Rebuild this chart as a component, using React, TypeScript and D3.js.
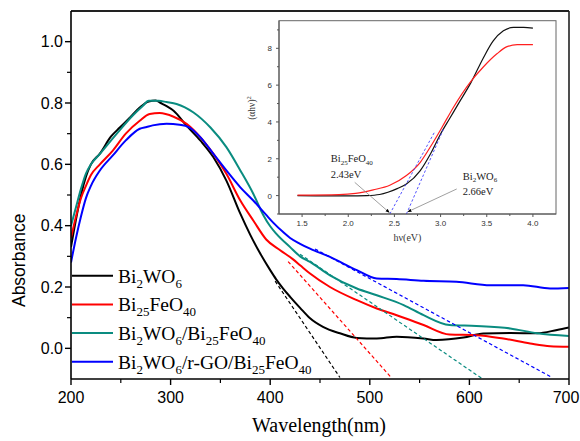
import React from "react";
import * as d3 from "d3";

// ---------- Main chart data (wavelength nm, absorbance) ----------
const bi2wo6: [number, number][] = [
  [200, 0.33], [205, 0.42], [210, 0.5], [215, 0.56], [220, 0.6], [229, 0.635], [240, 0.69],
  [249, 0.72], [260, 0.755], [269, 0.785], [278, 0.805], [285, 0.808], [290, 0.8], [296, 0.79],
  [303, 0.775], [316, 0.726], [330, 0.677], [343, 0.623], [356, 0.547], [370, 0.439], [380, 0.37],
  [390, 0.309], [400, 0.255], [406, 0.225], [413, 0.195], [420, 0.168], [430, 0.132], [440, 0.098],
  [453, 0.07], [470, 0.049], [487, 0.034], [507, 0.032], [527, 0.038], [554, 0.032], [567, 0.027],
  [594, 0.035], [614, 0.048], [641, 0.05], [668, 0.049], [688, 0.06], [700, 0.068],
];
const bi25feo40: [number, number][] = [
  [200, 0.36], [205, 0.43], [210, 0.49], [215, 0.53], [220, 0.565], [229, 0.6], [242, 0.645],
  [255, 0.7], [269, 0.742], [279, 0.764], [289, 0.767], [303, 0.755], [316, 0.732], [330, 0.688],
  [343, 0.634], [356, 0.569], [370, 0.482], [383, 0.417], [396, 0.355], [410, 0.32], [423, 0.29],
  [430, 0.271], [440, 0.244], [460, 0.2], [487, 0.157], [507, 0.13], [527, 0.108], [554, 0.076],
  [580, 0.045], [607, 0.043], [634, 0.032], [661, 0.016], [681, 0.007], [700, 0.005],
];
const composite: [number, number][] = [
  [200, 0.4], [205, 0.46], [210, 0.52], [215, 0.57], [220, 0.6], [229, 0.634], [246, 0.7],
  [262, 0.759], [272, 0.79], [278, 0.807], [288, 0.807], [296, 0.803], [306, 0.797], [323, 0.769],
  [340, 0.72], [356, 0.656], [370, 0.58], [383, 0.504], [393, 0.435], [400, 0.398], [406, 0.374],
  [420, 0.33], [430, 0.3], [440, 0.282], [460, 0.238], [487, 0.195], [507, 0.173], [534, 0.141],
  [554, 0.108], [580, 0.076], [607, 0.073], [641, 0.065], [668, 0.049], [700, 0.04],
];
const rgoComposite: [number, number][] = [
  [200, 0.28], [205, 0.36], [210, 0.43], [215, 0.49], [220, 0.53], [229, 0.58], [242, 0.629],
  [255, 0.678], [269, 0.716], [276, 0.722], [282, 0.727], [296, 0.732], [309, 0.729], [319, 0.72],
  [330, 0.688], [343, 0.634], [356, 0.58], [370, 0.525], [383, 0.482], [396, 0.435], [403, 0.41],
  [413, 0.379], [420, 0.36], [430, 0.341], [440, 0.325], [460, 0.298], [487, 0.255], [507, 0.228],
  [527, 0.226], [554, 0.22], [587, 0.217], [621, 0.206], [654, 0.206], [681, 0.195], [700, 0.197],
];

const seriesNames = ["Bi_2WO_6", "Bi_25FeO_40", "Bi_2WO_6/Bi_25FeO_40", "Bi_2WO_6/r-GO/Bi_25FeO_40"];
const seriesColors = ["#000000", "#ff0000", "#0a8c80", "#0000ff"];
const seriesData = [bi2wo6, bi25feo40, composite, rgoComposite];

// tangent (dashed) lines: [start, end]
const tangents: [number, number][][] = [
  [[405, 0.219], [470, -0.095]],
  [[418, 0.283], [522, -0.097]],
  [[430, 0.307], [612, -0.097]],
  [[445, 0.324], [683, -0.095]],
];

const xMajor = [200, 300, 400, 500, 600, 700];
const xMinor = [250, 350, 450, 550, 650];
const yMajor = [0, 0.2, 0.4, 0.6, 0.8, 1.0];
const yMinor = [0.1, 0.3, 0.5, 0.7, 0.9];

// ---------- Inset data (hv eV, (αhν)^2) ----------
const insetBi2wo6: [number, number][] = [
  [1.45, 0], [2.0, -0.02], [2.2, 0.0], [2.34, 0.06], [2.43, 0.18], [2.53, 0.38], [2.63, 0.63],
  [2.78, 1.36], [2.89, 2.26], [3.0, 3.35], [3.1, 4.2], [3.2, 5.05], [3.33, 6.15], [3.46, 7.45],
  [3.57, 8.4], [3.68, 8.95], [3.79, 9.14], [3.9, 9.14], [4.0, 9.1],
];
const insetBi25feo40: [number, number][] = [
  [1.45, 0.02], [1.9, 0.05], [2.08, 0.12], [2.27, 0.31], [2.45, 0.56], [2.63, 1.09], [2.78, 1.81],
  [2.89, 2.65], [3.02, 3.75], [3.14, 4.8], [3.32, 6.15], [3.46, 6.97], [3.61, 7.7], [3.72, 8.09],
  [3.83, 8.2], [4.0, 8.2],
];
const insetTangents: [number, number][][] = [
  [[2.45, -1], [2.94, 3.5]],
  [[2.63, -1], [3.03, 3.6]],
];
const insetXMajor = [1.5, 2.0, 2.5, 3.0, 3.5, 4.0];
const insetXMinor = [1.75, 2.25, 2.75, 3.25, 3.75];
const insetYMajor = [0, 2, 4, 6, 8];
const insetYMinor = [-1, 1, 3, 5, 7, 9];
// annotations: label lines (text, eV, value) and arrows (from -> to)
const insetLabels: { lines: string[]; x: number; y: number }[] = [
  { lines: ["Bi_25FeO_40", "2.43eV"], x: 1.81, y: 1.8 },
  { lines: ["Bi_2WO_6", "2.66eV"], x: 3.24, y: 0.85 },
];
const insetArrows: [number, number][][] = [
  [[2.07, 0.72], [2.445, -0.92]],
  [[3.175, 0.36], [2.645, -0.88]],
];

const W = 580;
const H = 441;

function chem(label: string, subSize: number, shift: number) {
  const parts = label.split(/(_\d+)/).filter((p) => p.length > 0);
  const out: React.ReactNode[] = [];
  let down = false;
  parts.forEach((p, i) => {
    if (p.startsWith("_")) {
      out.push(
        <tspan key={i} fontSize={subSize} dy={shift}>
          {p.slice(1)}
        </tspan>
      );
      down = true;
    } else {
      out.push(
        <tspan key={i} dy={down ? -shift : 0}>
          {p}
        </tspan>
      );
      down = false;
    }
  });
  return out;
}

export default function App() {
  const x = d3.scaleLinear().domain([200, 700]).range([71, 569]);
  const y = d3.scaleLinear().domain([-0.1, 1.1]).range([379, 11]);
  const line = d3
    .line<[number, number]>()
    .x((d) => x(d[0]))
    .y((d) => y(d[1]))
    .curve(d3.curveMonotoneX);
  const seg = d3
    .line<[number, number]>()
    .x((d) => x(d[0]))
    .y((d) => y(d[1]));

  const ix = d3.scaleLinear().domain([1.25, 4.25]).range([279, 556]);
  const iy = d3.scaleLinear().domain([-1, 9.5]).range([214, 20.7]);
  const iline = d3
    .line<[number, number]>()
    .x((d) => ix(d[0]))
    .y((d) => iy(d[1]))
    .curve(d3.curveMonotoneX);
  const iseg = d3
    .line<[number, number]>()
    .x((d) => ix(d[0]))
    .y((d) => iy(d[1]));

  const sans = "Liberation Sans, Arial, sans-serif";
  const serif = "Liberation Serif, Times New Roman, serif";

  const [x0, x1] = x.range();
  const [yb, yt] = y.range();
  const [ix0, ix1] = ix.range();
  const [iyb, iyt] = iy.range();

  return (
    <svg width={W} height={H} style={{ position: "absolute", left: 0, top: 0, background: "#fff" }}>
      <defs>
        <marker id="arr" viewBox="0 0 6 6" refX="5.5" refY="3" markerWidth="5" markerHeight="5" orient="auto">
          <path d="M0,0.5 L6,3 L0,5.5 Z" fill="#000" />
        </marker>
        <clipPath id="mainClip">
          <rect x={x0} y={yt} width={x1 - x0} height={yb - yt} />
        </clipPath>
      </defs>

      {/* curves */}
      <g clipPath="url(#mainClip)">
        {seriesData.map((d, i) => (
          <path key={i} d={line(d) || ""} fill="none" stroke={seriesColors[i]} strokeWidth={2} />
        ))}
        {tangents.map((d, i) => (
          <path
            key={i}
            d={seg(d) || ""}
            fill="none"
            stroke={seriesColors[i]}
            strokeWidth={1.2}
            strokeDasharray="3.5,2.5"
          />
        ))}
      </g>

      {/* frame */}
      <line x1={x0} y1={yt} x2={x1} y2={yt} stroke="#222" strokeWidth={2} />
      <line x1={x1} y1={yt} x2={x1} y2={yb} stroke="#222" strokeWidth={1.6} />
      <line x1={x0} y1={yb} x2={x1} y2={yb} stroke="#000" strokeWidth={1.6} />
      <line x1={x0} y1={yt} x2={x0} y2={yb} stroke="#000" strokeWidth={1.6} />

      {/* x ticks */}
      {xMajor.map((v) => (
        <g key={v}>
          <line x1={x(v)} x2={x(v)} y1={yb} y2={yb + 6} stroke="#000" strokeWidth={1.4} />
          <text
            x={Math.min(x(v), W - 14)}
            y={403}
            textAnchor="middle"
            fontFamily={sans}
            fontSize={16}
            fill="#000"
          >
            {v}
          </text>
        </g>
      ))}
      {xMinor.map((v) => (
        <line key={v} x1={x(v)} x2={x(v)} y1={yb} y2={yb + 4} stroke="#000" strokeWidth={1.2} />
      ))}
      {/* y ticks */}
      {yMajor.map((v) => (
        <g key={v}>
          <line x1={x0 - 6} x2={x0} y1={y(v)} y2={y(v)} stroke="#000" strokeWidth={1.4} />
          <text x={63} y={y(v) + 5.5} textAnchor="end" fontFamily={sans} fontSize={16} fill="#000">
            {d3.format(".1f")(v)}
          </text>
        </g>
      ))}
      {yMinor.map((v) => (
        <line key={v} x1={x0 - 4} x2={x0} y1={y(v)} y2={y(v)} stroke="#000" strokeWidth={1.2} />
      ))}

      {/* axis titles */}
      <text x={(x0 + x1) / 2 - 1} y={432} textAnchor="middle" fontFamily={serif} fontSize={20} fill="#000">
        Wavelength(nm)
      </text>
      <text
        transform={`translate(25,${(y(0.45) + y(0.15)) / 2 + 4}) rotate(-90)`}
        textAnchor="middle"
        fontFamily={sans}
        fontSize={17.5}
        fill="#000"
      >
        Absorbance
      </text>

      {/* legend */}
      {seriesNames.map((name, i) => {
        const ly = 275.7 + i * 28.7;
        return (
          <g key={name}>
            <line x1={x0 + 1} x2={113} y1={ly} y2={ly} stroke={seriesColors[i]} strokeWidth={2} />
            <text x={118} y={ly + 7} fontFamily={serif} fontSize={19.5} fill="#000">
              {chem(name, 13, 5)}
            </text>
          </g>
        );
      })}

      {/* inset */}
      <rect x={ix0} y={iyt} width={ix1 - ix0} height={iyb - iyt} fill="#fff" stroke="#666" strokeWidth={1} />
      <path d={iline(insetBi2wo6) || ""} fill="none" stroke="#111" strokeWidth={1.2} />
      <path d={iline(insetBi25feo40) || ""} fill="none" stroke="#ff2020" strokeWidth={1.2} />
      {insetTangents.map((d, i) => (
        <path key={i} d={iseg(d) || ""} fill="none" stroke="#4040ff" strokeWidth={0.9} strokeDasharray="2.5,2" />
      ))}
      {insetArrows.map((d, i) => (
        <line
          key={i}
          x1={ix(d[0][0])}
          y1={iy(d[0][1])}
          x2={ix(d[1][0])}
          y2={iy(d[1][1])}
          stroke="#888"
          strokeWidth={0.8}
          markerEnd="url(#arr)"
        />
      ))}
      {insetLabels.map((lab, i) => (
        <g key={i}>
          {lab.lines.map((t, j) => (
            <text key={j} x={ix(lab.x)} y={iy(lab.y) + j * 15.5} fontFamily={serif} fontSize={10.5} fill="#222">
              {chem(t, 7, 2.5)}
            </text>
          ))}
        </g>
      ))}
      {/* inset axes */}
      <line x1={ix0} x2={ix1} y1={iyb} y2={iyb} stroke="#555" strokeWidth={1} />
      <line x1={ix0} x2={ix0} y1={iyt} y2={iyb} stroke="#555" strokeWidth={1} />
      {insetXMajor.map((v) => (
        <g key={v}>
          <line x1={ix(v)} x2={ix(v)} y1={iyb} y2={iyb + 3} stroke="#555" />
          <text x={ix(v)} y={226} textAnchor="middle" fontFamily={sans} fontSize={8} fill="#333">
            {d3.format(".1f")(v)}
          </text>
        </g>
      ))}
      {insetXMinor.map((v) => (
        <line key={v} x1={ix(v)} x2={ix(v)} y1={iyb} y2={iyb + 2} stroke="#555" />
      ))}
      {insetYMajor.map((v) => (
        <g key={v}>
          <line x1={ix0 - 3} x2={ix0} y1={iy(v)} y2={iy(v)} stroke="#555" />
          <text x={272} y={iy(v) + 3} textAnchor="end" fontFamily={sans} fontSize={8} fill="#333">
            {v}
          </text>
        </g>
      ))}
      {insetYMinor.map((v) => (
        <line key={v} x1={ix0 - 2} x2={ix0} y1={iy(v)} y2={iy(v)} stroke="#555" />
      ))}
      <text x={(ix0 + ix1) / 2 - 10} y={241} textAnchor="middle" fontFamily={serif} fontSize={10} fill="#333">
        hν(eV)
      </text>
      <text transform={`translate(255,108) rotate(-90)`} textAnchor="middle" fontFamily={serif} fontSize={9.5} fill="#333">
        (αhν)<tspan fontSize={6.5} dy={-4}>2</tspan>
      </text>
    </svg>
  );
}
